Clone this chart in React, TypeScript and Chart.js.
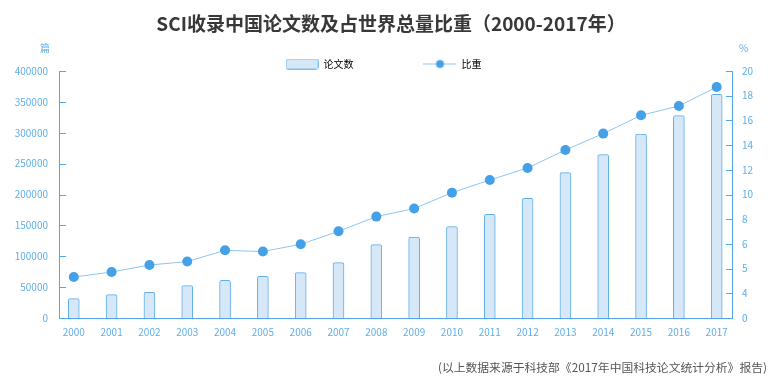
import React, { useEffect, useRef } from 'react';
import { Chart, registerables } from 'chart.js';

Chart.register(...registerables);

const categories = ['2000', '2001', '2002', '2003', '2004', '2005', '2006', '2007', '2008', '2009', '2010', '2011', '2012', '2013', '2014', '2015', '2016', '2017'];
const paperCounts = [31400, 37900, 41600, 52400, 61000, 67500, 73500, 89700, 118800, 131100, 148000, 167900, 193800, 235400, 264500, 297900, 327700, 362200];
const worldShare = [3.32, 3.72, 4.29, 4.57, 5.48, 5.38, 5.97, 7.02, 8.21, 8.86, 10.15, 11.17, 12.15, 13.6, 14.93, 16.41, 17.17, 18.7];
const rightTickLabels = ['0', '4', '5', '6', '8', '10', '12', '14', '16', '18', '20'];
const seriesNames = ['论文数', '比重'];
const titleText = 'SCI收录中国论文数及占世界总量比重（2000-2017年）';
const leftUnit = '篇';
const rightUnit = '%';
const footnote = '(以上数据来源于科技部《2017年中国科技论文统计分析》报告)';

const FONT = "'Noto Sans CJK SC', 'Noto Sans', sans-serif";
const AXIS = '#52a6e8';
const TICK = '#5eaee9';
const BAR_FILL = '#d6e8f7';
const BAR_BORDER = '#5eaeea';
const LINE = '#8fc6f0';
const DOT = '#45a1e7';

function makeBarIcon() {
  const c = document.createElement('canvas');
  c.width = 33;
  c.height = 11;
  const g = c.getContext('2d')!;
  g.fillStyle = BAR_FILL;
  g.strokeStyle = '#7fbdee';
  g.lineWidth = 1;
  g.beginPath();
  (g as any).roundRect(0.5, 0.5, 32, 10, 2);
  g.fill();
  g.stroke();
  return c;
}

function makeLineIcon() {
  const c = document.createElement('canvas');
  c.width = 33;
  c.height = 11;
  const g = c.getContext('2d')!;
  g.strokeStyle = LINE;
  g.lineWidth = 1;
  g.beginPath();
  g.moveTo(0, 5.5);
  g.lineTo(33, 5.5);
  g.stroke();
  g.fillStyle = DOT;
  g.beginPath();
  g.arc(16.5, 5.5, 4, 0, Math.PI * 2);
  g.fill();
  return c;
}

const innerTicks = {
  id: 'innerTicks',
  afterDraw(chart: any) {
    const { ctx, chartArea, scales } = chart;
    ctx.save();
    ctx.strokeStyle = AXIS;
    ctx.lineWidth = 1;
    scales.y.ticks.forEach((t: any) => {
      const y = Math.round(scales.y.getPixelForValue(t.value)) + 0.5;
      ctx.beginPath();
      ctx.moveTo(chartArea.left, y);
      ctx.lineTo(chartArea.left + 7, y);
      ctx.stroke();
    });
    scales.y1.ticks.forEach((t: any) => {
      const y = Math.round(scales.y1.getPixelForValue(t.value)) + 0.5;
      ctx.beginPath();
      ctx.moveTo(chartArea.right - 6, y);
      ctx.lineTo(chartArea.right, y);
      ctx.stroke();
    });
    ctx.restore();
  },
};

export default function App() {
  const ref = useRef<HTMLCanvasElement>(null);

  useEffect(() => {
    Chart.defaults.font.family = FONT;
    const barIcon = makeBarIcon();
    const lineIcon = makeLineIcon();
    const chart = new Chart(ref.current!, {
      type: 'bar',
      data: {
        datasets: [
          {
            type: 'bar',
            label: seriesNames[0],
            data: paperCounts.map((v, i) => ({ x: i, y: v })),
            yAxisID: 'y',
            backgroundColor: BAR_FILL,
            borderColor: BAR_BORDER,
            borderWidth: 1,
            borderSkipped: 'bottom',
            borderRadius: 2,
            barThickness: 11,
            order: 2,
          } as any,
          {
            type: 'line',
            label: seriesNames[1],
            data: worldShare.map((v, i) => ({ x: i, y: v })),
            yAxisID: 'y1',
            borderColor: LINE,
            borderWidth: 1,
            pointRadius: 5,
            pointBackgroundColor: DOT,
            pointBorderColor: DOT,
            pointBorderWidth: 0,
            tension: 0,
            order: 1,
          } as any,
        ],
      },
      options: {
        responsive: false,
        animation: false,
        events: [],
        layout: { padding: 0 },
        scales: {
          x: {
            type: 'linear',
            offset: false,
            min: -0.391,
            max: 17.405,
            grid: { display: false, drawTicks: false },
            border: { color: AXIS },
            ticks: {
              stepSize: 1,
              includeBounds: false,
              autoSkip: false,
              maxRotation: 0,
              padding: 8,
              color: TICK,
              font: { size: 10 },
              callback: (v: any) => (Number.isInteger(v) ? categories[v] ?? '' : ''),
            },
            afterFit: (s: any) => {
              s.height = 70;
            },
          } as any,
          y: {
            position: 'left',
            min: 0,
            max: 400000,
            grid: { display: false, drawTicks: false },
            border: { color: AXIS },
            ticks: {
              stepSize: 50000,
              padding: 11,
              color: TICK,
              font: { size: 10 },
              callback: (v: any) => String(v),
            },
            afterFit: (s: any) => {
              s.width = 59;
            },
          } as any,
          y1: {
            position: 'right',
            min: 0,
            max: 20,
            grid: { display: false, drawTicks: false },
            border: { color: AXIS },
            ticks: {
              stepSize: 2,
              padding: 10,
              color: TICK,
              font: { size: 10 },
              callback: (_v: any, i: number) => rightTickLabels[i],
            },
            afterFit: (s: any) => {
              s.width = 50;
            },
          } as any,
        },
        plugins: {
          tooltip: { enabled: false },
          title: {
            display: true,
            text: titleText,
            color: '#383838',
            font: { size: 19, weight: 'bold' },
            padding: { top: 12.6, bottom: 18.6 },
          },
          legend: {
            display: true,
            position: 'top',
            align: 'center',
            maxHeight: 17,
            labels: {
              usePointStyle: true,
              pointStyleWidth: 33,
              boxHeight: 11,
              padding: 5,
              color: TICK,
              font: { size: 10 },
              generateLabels: () => [
                {
                  text: seriesNames[0] + '\u3000\u3000\u3000\u3000\u3000\u3000\u2002',
                  pointStyle: barIcon,
                  datasetIndex: 0,
                  hidden: false,
                  lineWidth: 0,
                  fillStyle: 'transparent',
                  strokeStyle: 'transparent',
                },
                {
                  text: seriesNames[1] + '\u3000\u2002',
                  pointStyle: lineIcon,
                  datasetIndex: 1,
                  hidden: false,
                  lineWidth: 0,
                  fillStyle: 'transparent',
                  strokeStyle: 'transparent',
                },
              ],
            },
          } as any,
        },
      },
      plugins: [innerTicks],
    });
    return () => chart.destroy();
  }, []);

  return (
    <div style={{ position: 'fixed', left: 0, top: 0, width: 782, height: 388, fontFamily: FONT }}>
      <canvas ref={ref} width={782} height={388} style={{ display: 'block' }} />
      <span style={{ position: 'absolute', left: 40, top: 41, fontSize: 10, lineHeight: '14px', color: TICK }}>{leftUnit}</span>
      <span style={{ position: 'absolute', left: 739, top: 41, fontSize: 10, lineHeight: '14px', color: TICK }}>{rightUnit}</span>
      <span style={{ position: 'absolute', right: 15, top: 359, fontSize: 11.8, lineHeight: '16px', color: '#555555', whiteSpace: 'nowrap' }}>{footnote}</span>
    </div>
  );
}
